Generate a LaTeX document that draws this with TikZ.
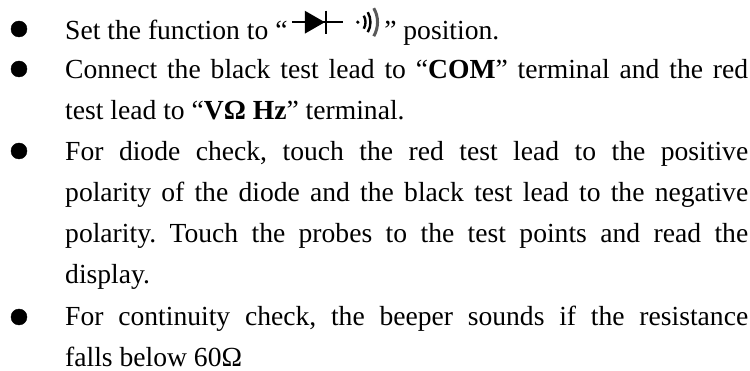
\documentclass[tikz,border=0pt]{standalone}
\usepackage{fontspec}
\setmainfont{Liberation Serif}
\usetikzlibrary{positioning}
\tikzset{
    item/.style={inner sep=0pt, text width=683pt, align=justify, font=\fontsize{27.6}{41}\selectfont\frenchspacing, anchor=north west},
    bullet/.style={draw, circle, fill=black, inner sep=0pt, minimum size=16pt},
    waves/.style={line width=2.4pt} }
\newcommand{\beepsign}{\smash{\begin{tikzpicture}[baseline=-17pt, x=1pt, y=1pt]
    \draw[line width=2.6pt] (0,0) -- (51,0);
    \fill (13,11.5) -- (33,0) -- (13,-11.5) -- cycle;
    \draw[line width=2.4pt] (34,11.5) -- (34,-11.5);
    \fill (66,0) circle (1.8);
    \draw[waves] (72,6.5) arc (30:-30:13);
    \draw[waves] (76,10) arc (30:-30:20);
    \draw[waves, line width=3pt, gray!70!black] (82,14) arc (30:-30:28);
    \end{tikzpicture}}}

\begin{document}
\begin{tikzpicture}[x=1pt, y=-1pt, node distance=0pt]
    \useasboundingbox (0,0) rectangle (750,371);
    \node[item] (set) at (65,10.3) {\strut Set the function to “\kern3pt\beepsign\kern4pt” position.\strut};
    \node[item, below = -2pt of set.south west, anchor=north west] (connect) {\strut Connect the black test lead to “\textbf{COM}” terminal and the red\linebreak test lead to “\textbf{VΩ Hz}” terminal.\strut};
    \node[item, below = of connect.south west, anchor=north west] (diode) {\strut For diode check, touch the red test lead to the positive\linebreak polarity of the diode and the black test lead to the negative\linebreak polarity. Touch the probes to the test points and read the\linebreak display.\strut};
    \node[item, below = of diode.south west, anchor=north west] (cont) {\strut For continuity check, the beeper sounds if the resistance\linebreak falls below 60Ω\strut};
    % ----
    \node[bullet] (b1) at (19,29) {};
    \node[bullet] (b2) at (19,69) {};
    \node[bullet] (b3) at (19,151) {};
    \node[bullet] (b4) at (19,317) {};
\end{tikzpicture}
\end{document}
